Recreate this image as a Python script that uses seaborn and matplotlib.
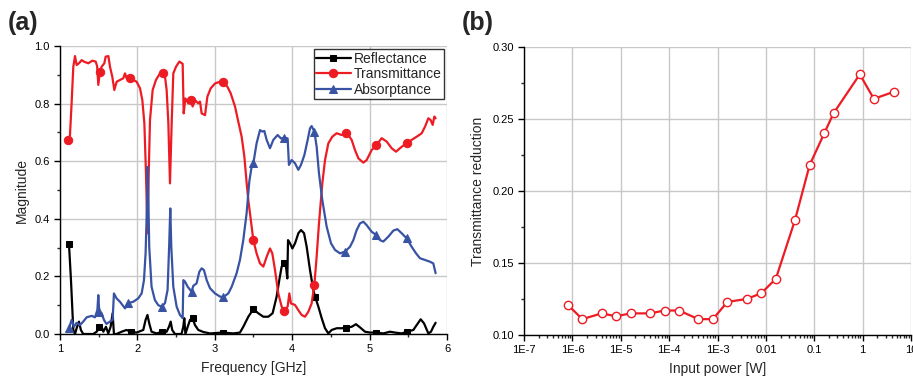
import numpy as np
import matplotlib
matplotlib.use("Agg")
import matplotlib.pyplot as plt
import matplotlib.ticker as mticker
import seaborn as sns

# ---- panel (a): spectra ----
freq_r = [1.116, 1.142, 1.172, 1.194, 1.215, 1.245, 1.27, 1.30, 1.43, 1.474, 1.508, 1.538, 1.56,
          1.594, 1.624, 1.654, 1.68, 1.697, 1.73, 1.797, 1.86, 1.912, 1.99, 2.076, 2.106, 2.13,
          2.153, 2.183, 2.248, 2.313, 2.378, 2.408, 2.43, 2.45, 2.485, 2.57, 2.593, 2.606, 2.62,
          2.65, 2.68, 2.714, 2.744, 2.787, 2.852, 2.938, 3.102, 3.24, 3.325, 3.368, 3.433, 3.498,
          3.562, 3.627, 3.691, 3.747, 3.799, 3.833, 3.864, 3.894, 3.92, 3.937, 3.946, 3.972, 4.002,
          4.037, 4.08, 4.114, 4.153, 4.187, 4.23, 4.273, 4.295, 4.338, 4.381, 4.424, 4.467, 4.51,
          4.575, 4.64, 4.695, 4.768, 4.824, 4.876, 4.94, 5.005, 5.083, 5.177, 5.263, 5.328, 5.414,
          5.487, 5.565, 5.608, 5.66, 5.703, 5.759, 5.793, 5.823, 5.853]
reflectance = [0.313, 0.187, 0.014, 0.0, 0.02, 0.043, 0.014, 0.0, 0.0, 0.008, 0.023, 0.025, 0.008,
               0.025, 0.002, 0.025, 0.072, 0.0, 0.0, 0.008, 0.014, 0.008, 0.005, 0.014, 0.049, 0.066,
               0.037, 0.008, 0.002, 0.007, 0.008, 0.025, 0.043, 0.014, 0.0, 0.0, 0.025, 0.055, 0.0,
               0.025, 0.049, 0.055, 0.031, 0.014, 0.007, 0.002, 0.005, 0.002, 0.005, 0.025, 0.06, 0.086,
               0.072, 0.06, 0.06, 0.072, 0.13, 0.187, 0.234, 0.245, 0.234, 0.193, 0.326, 0.315, 0.297,
               0.315, 0.35, 0.361, 0.35, 0.303, 0.222, 0.153, 0.13, 0.095, 0.055, 0.02, 0.002, 0.014,
               0.02, 0.02, 0.022, 0.025, 0.034, 0.023, 0.008, 0.005, 0.005, 0.002, 0.008, 0.005, 0.002,
               0.008, 0.014, 0.031, 0.051, 0.037, 0.002, 0.008, 0.025, 0.039]

freq_t = [1.108, 1.129, 1.150, 1.172, 1.194, 1.215, 1.245, 1.280, 1.314, 1.366, 1.418, 1.461, 1.480,
          1.495, 1.515, 1.538, 1.573, 1.590, 1.625, 1.646, 1.676, 1.702, 1.732, 1.775, 1.818, 1.840,
          1.861, 1.904, 1.947, 1.990, 2.034, 2.064, 2.090, 2.111, 2.130, 2.150, 2.163, 2.197, 2.240,
          2.292, 2.327, 2.357, 2.378, 2.400, 2.421, 2.443, 2.464, 2.499, 2.542, 2.585, 2.598, 2.620,
          2.658, 2.688, 2.714, 2.744, 2.787, 2.809, 2.830, 2.874, 2.904, 2.947, 3.003, 3.067, 3.110,
          3.162, 3.205, 3.261, 3.304, 3.347, 3.382, 3.412, 3.433, 3.476, 3.498, 3.540, 3.584, 3.627,
          3.670, 3.713, 3.743, 3.778, 3.820, 3.864, 3.898, 3.941, 3.963, 3.984, 4.036, 4.079, 4.122,
          4.165, 4.208, 4.251, 4.286, 4.316, 4.346, 4.389, 4.424, 4.467, 4.518, 4.574, 4.639, 4.690,
          4.725, 4.768, 4.811, 4.855, 4.919, 4.962, 5.027, 5.085, 5.156, 5.221, 5.285, 5.341, 5.414,
          5.479, 5.543, 5.608, 5.673, 5.716, 5.759, 5.789, 5.815, 5.836, 5.853]
transmittance = [0.674, 0.69, 0.80, 0.928, 0.965, 0.934, 0.94, 0.951, 0.945, 0.94, 0.949, 0.946, 0.93,
                 0.865, 0.91, 0.928, 0.94, 0.963, 0.965, 0.928, 0.893, 0.847, 0.876, 0.882, 0.888, 0.905,
                 0.888, 0.888, 0.882, 0.876, 0.853, 0.812, 0.732, 0.558, 0.35, 0.60, 0.743, 0.847, 0.882,
                 0.905, 0.905, 0.893, 0.847, 0.732, 0.523, 0.732, 0.905, 0.928, 0.946, 0.938, 0.766, 0.818,
                 0.801, 0.812, 0.79, 0.812, 0.801, 0.807, 0.766, 0.76, 0.824, 0.853, 0.870, 0.876, 0.876,
                 0.859, 0.836, 0.79, 0.737, 0.685, 0.616, 0.523, 0.465, 0.373, 0.326, 0.28, 0.245, 0.234,
                 0.268, 0.297, 0.28, 0.222, 0.141, 0.095, 0.081, 0.095, 0.141, 0.106, 0.101, 0.083, 0.066,
                 0.06, 0.077, 0.106, 0.17, 0.269, 0.384, 0.523, 0.604, 0.662, 0.685, 0.697, 0.691, 0.697,
                 0.691, 0.674, 0.639, 0.61, 0.595, 0.604, 0.639, 0.655, 0.68, 0.668, 0.645, 0.633, 0.65,
                 0.662, 0.674, 0.685, 0.697, 0.72, 0.749, 0.743, 0.726, 0.755, 0.749]

freq_a = [1.116, 1.150, 1.180, 1.215, 1.258, 1.300, 1.345, 1.410, 1.452, 1.483, 1.495, 1.508, 1.538,
          1.568, 1.600, 1.645, 1.680, 1.697, 1.730, 1.775, 1.840, 1.882, 1.947, 2.012, 2.055, 2.085,
          2.106, 2.124, 2.133, 2.143, 2.153, 2.183, 2.226, 2.270, 2.313, 2.356, 2.390, 2.410, 2.425,
          2.438, 2.464, 2.507, 2.550, 2.585, 2.594, 2.615, 2.650, 2.700, 2.722, 2.765, 2.800, 2.830,
          2.860, 2.895, 2.938, 3.002, 3.067, 3.110, 3.175, 3.218, 3.282, 3.325, 3.368, 3.411, 3.446,
          3.476, 3.498, 3.540, 3.584, 3.614, 3.640, 3.670, 3.713, 3.756, 3.812, 3.855, 3.898, 3.941,
          3.958, 3.993, 4.036, 4.079, 4.113, 4.157, 4.200, 4.230, 4.251, 4.286, 4.316, 4.346, 4.389,
          4.445, 4.501, 4.553, 4.617, 4.682, 4.747, 4.790, 4.833, 4.876, 4.919, 4.962, 5.027, 5.083,
          5.134, 5.177, 5.242, 5.307, 5.358, 5.414, 5.479, 5.543, 5.600, 5.651, 5.716, 5.780, 5.823,
          5.853]
absorptance = [0.02, 0.049, 0.025, 0.039, 0.031, 0.043, 0.058, 0.063, 0.058, 0.083, 0.135, 0.077, 0.072,
               0.049, 0.035, 0.043, 0.049, 0.141, 0.124, 0.112, 0.089, 0.107, 0.112, 0.124, 0.141, 0.187,
               0.28, 0.45, 0.58, 0.45, 0.303, 0.164, 0.118, 0.10, 0.095, 0.107, 0.153, 0.303, 0.436,
               0.303, 0.164, 0.095, 0.066, 0.055, 0.187, 0.182, 0.164, 0.147, 0.167, 0.176, 0.216, 0.228,
               0.222, 0.187, 0.159, 0.141, 0.13, 0.128, 0.141, 0.164, 0.211, 0.257, 0.326, 0.419, 0.53,
               0.581, 0.593, 0.662, 0.708, 0.703, 0.705, 0.674, 0.645, 0.674, 0.691, 0.679, 0.682, 0.679,
               0.587, 0.604, 0.593, 0.57, 0.587, 0.621, 0.674, 0.714, 0.722, 0.703, 0.65, 0.558, 0.465,
               0.373, 0.315, 0.292, 0.28, 0.286, 0.303, 0.326, 0.361, 0.384, 0.39, 0.378, 0.355, 0.344,
               0.326, 0.321, 0.338, 0.359, 0.364, 0.35, 0.332, 0.303, 0.28, 0.263, 0.257, 0.251, 0.245,
               0.211]

marker_freqs = [1.11, 1.51, 1.91, 2.31, 2.70, 3.10, 3.50, 3.89, 4.29, 4.69, 5.08, 5.48]

# ---- panel (b): power sweep ----
power = [8e-7, 1.6e-6, 4e-6, 8e-6, 1.6e-5, 4e-5, 8e-5, 1.6e-4, 4e-4, 8e-4, 1.6e-3, 4e-3, 8e-3,
         1.6e-2, 4e-2, 8e-2, 0.16, 0.25, 0.87, 1.7, 4.5]
reduction = [0.121, 0.111, 0.115, 0.113, 0.115, 0.115, 0.117, 0.117, 0.111, 0.111, 0.123, 0.125, 0.129,
             0.139, 0.180, 0.218, 0.240, 0.254, 0.281, 0.264, 0.269]
power_ticks = [1e-7, 1e-6, 1e-5, 1e-4, 1e-3, 1e-2, 1e-1, 1, 10]
power_labels = ["1E-7", "1E-6", "1E-5", "1E-4", "1E-3", "0.01", "0.1", "1", "10"]

RED = "#ed1c24"
BLUE = "#3953a4"

sns.set_style("ticks")
plt.rcParams['font.family'] = ['Liberation Sans', 'DejaVu Sans']
plt.rcParams['axes.linewidth'] = 1.0


def nearest(freqs, targets):
    f = np.asarray(freqs)
    return [int(np.argmin(np.abs(f - t))) for t in targets]


def style_axes(ax):
    sns.despine(ax=ax)
    ax.grid(True, which='major', color='#c8c8c8', lw=1.0)
    ax.set_axisbelow(True)
    ax.tick_params(which='major', direction='out', length=4, width=1, labelsize=8, colors='black')
    ax.tick_params(which='minor', direction='out', length=2.5, width=1)
    for s in ax.spines.values():
        s.set_color('black')


fig = plt.figure(figsize=(9.13, 3.78), dpi=100)
ax1 = fig.add_axes([0.0657, 0.1164, 0.4239, 0.7619])
ax2 = fig.add_axes([0.574, 0.1138, 0.4239, 0.7619])

sns.lineplot(x=freq_r, y=reflectance, ax=ax1, color='black', lw=1.6, marker='s', ms=5,
             markevery=nearest(freq_r, marker_freqs), mec='black', label='Reflectance')
sns.lineplot(x=freq_t, y=transmittance, ax=ax1, color=RED, lw=1.6, marker='o', ms=6,
             markevery=nearest(freq_t, marker_freqs), mec=RED, label='Transmittance')
sns.lineplot(x=freq_a, y=absorptance, ax=ax1, color=BLUE, lw=1.6, marker='^', ms=6,
             markevery=nearest(freq_a, marker_freqs), mec=BLUE, label='Absorptance')

ax1.set_xlim(1, 6)
ax1.set_ylim(0, 1.0)
ax1.xaxis.set_major_locator(mticker.MultipleLocator(1))
ax1.xaxis.set_minor_locator(mticker.MultipleLocator(0.5))
ax1.yaxis.set_major_locator(mticker.MultipleLocator(0.2))
ax1.yaxis.set_minor_locator(mticker.MultipleLocator(0.1))
ax1.yaxis.set_major_formatter(mticker.FormatStrFormatter('%.1f'))
style_axes(ax1)
ax1.set_xlabel('Frequency [GHz]', fontsize=10, labelpad=5)
ax1.set_ylabel('Magnitude', fontsize=10, labelpad=4)
leg = ax1.legend(loc='upper right', fontsize=10, frameon=True, fancybox=False, borderpad=0.15,
                 handlelength=2.5, handletextpad=0.2, labelspacing=0.12, borderaxespad=0.25)
leg.get_frame().set_edgecolor('black')
leg.get_frame().set_linewidth(1.0)

sns.lineplot(x=power, y=reduction, ax=ax2, color=RED, lw=1.6, marker='o', ms=6,
             mfc='white', mec=RED, mew=1.0)
ax2.set_xscale('log')
ax2.set_xlim(1e-7, 10)
ax2.set_ylim(0.10, 0.30)
ax2.xaxis.set_major_locator(mticker.FixedLocator(power_ticks))
ax2.xaxis.set_major_formatter(mticker.FixedFormatter(power_labels))
ax2.xaxis.set_minor_locator(mticker.LogLocator(base=10, subs=np.arange(2, 10), numticks=20))
ax2.xaxis.set_minor_formatter(mticker.NullFormatter())
ax2.yaxis.set_major_locator(mticker.MultipleLocator(0.05))
ax2.yaxis.set_minor_locator(mticker.MultipleLocator(0.025))
ax2.yaxis.set_major_formatter(mticker.FormatStrFormatter('%.2f'))
style_axes(ax2)
ax2.set_xlabel('Input power [W]', fontsize=10, labelpad=5)
ax2.set_ylabel('Transmittance reduction', fontsize=10, labelpad=5)

fig.text(0.008, 0.94, '(a)', fontsize=18, fontweight='bold', va='center')
fig.text(0.506, 0.94, '(b)', fontsize=18, fontweight='bold', va='center')

fig.savefig('out.png', dpi=100)
